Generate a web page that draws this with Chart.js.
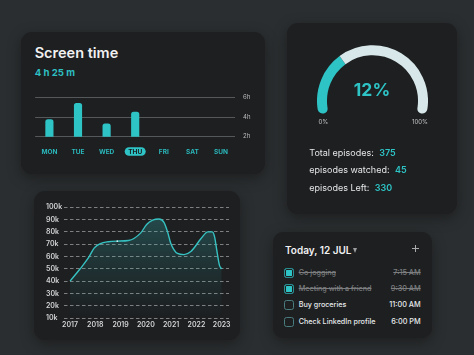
<!DOCTYPE html>
<html><head><meta charset="utf-8">
<script src="https://cdn.jsdelivr.net/npm/chart.js@4.4.1/dist/chart.umd.min.js"></script>
<style>
html,body{margin:0;padding:0;}
body{width:474px;height:355px;background:#2b2e30;position:relative;overflow:hidden;font-family:Inter,"Noto Sans",sans-serif;}
.panel{position:absolute;background:#1d1f21;border-radius:11px;box-shadow:0 4px 14px rgba(0,0,0,0.35);}
.t{position:absolute;white-space:nowrap;}
canvas{position:absolute;}
.cb{position:absolute;width:8px;height:8px;border:1px solid #4a7d7f;border-radius:2.5px;}
.cb.on{background:#2ec4c6;border-color:#2a8f91;box-shadow:inset 0 0 0 1px #1d1f21;}
.done{color:#7b7d7f;text-decoration:line-through;}
</style>
</head><body>
<div class="panel" style="left:21px;top:31.5px;width:244px;height:142.5px;"></div>
<div class="panel" style="left:287px;top:23px;width:170px;height:191px;"></div>
<div class="panel" style="left:34px;top:191px;width:206px;height:149px;"></div>
<div class="panel" style="left:273px;top:232px;width:159px;height:106px;border-radius:10px;"></div>

<div class="t" style="left:34.7px;top:45.3px;font-size:14.5px;line-height:16px;font-weight:600;color:#f1f1f1;">Screen time</div>
<div class="t" style="left:34.7px;top:66.5px;font-size:9.6px;line-height:12px;font-weight:700;color:#2ebfc2;">4 h 25 m</div>
<canvas id="bar" width="230" height="75" style="left:30px;top:86px;width:230px;height:75px;"></canvas>

<canvas id="gauge" width="111" height="70" style="left:317px;top:45px;width:111px;height:70px;"></canvas>
<div class="t" style="left:322px;width:100px;text-align:center;top:80.3px;font-size:17.5px;line-height:20px;font-weight:700;color:#2ec4c6;">12%</div>
<div class="t" style="left:303.3px;width:40px;text-align:center;top:118px;font-size:6px;line-height:8px;color:#c4c6c8;">0%</div>
<div class="t" style="left:400px;width:40px;text-align:center;top:118px;font-size:6px;line-height:8px;color:#c4c6c8;">100%</div>
<div id="stats"></div>

<canvas id="line" width="189" height="135" style="left:46px;top:200px;width:189px;height:135px;"></canvas>

<div class="t" style="left:285px;top:243.7px;font-size:10px;line-height:12px;font-weight:600;color:#f1f1f1;">Today, 12 JUL</div>
<div style="position:absolute;left:352.7px;top:247.5px;width:0;height:0;border-left:2.9px solid transparent;border-right:2.9px solid transparent;border-top:5px solid #9a9c9e;"></div>
<div style="position:absolute;left:411.7px;top:247.7px;width:7.3px;height:1.3px;background:#a8aaac;"></div>
<div style="position:absolute;left:414.7px;top:244.7px;width:1.3px;height:7.3px;background:#a8aaac;"></div>
<div id="todo"></div>

<script>
// ---- data ----
const days = ['MON','TUE','WED','THU','FRI','SAT','SUN'];
const screenHours = [3.75, 5.4, 3.3, 4.5, null, null, null];
const highlightDay = 'THU';

const gaugeParts = [32.6, 67.4];
const statLabels = ['Total episodes:', 'episodes watched:', 'episodes Left:'];
const statValues = ['375', '45', '330'];

const yearLabels = ['2017','2018','2019','2020','2021','2022','2023'];
const lineYears = [2017.0, 2017.40, 2017.73, 2017.96, 2018.2, 2018.51, 2018.87, 2019.31, 2019.79, 2020.03, 2020.27, 2020.51, 2020.71, 2020.86, 2020.98, 2021.25, 2021.51, 2021.78, 2022.2, 2022.45, 2022.62, 2022.72, 2022.80, 2022.91, 2023.0];
const lineValues = [40000, 50000, 59000, 67000, 70500, 72000, 72500, 73000, 79000, 86000, 89500, 90500, 88000, 80000, 71000, 62500, 61500, 64000, 75000, 80000, 80000, 76000, 66000, 53000, 50000];
const yTickLabels = ['10k','20k','30k','40k','50k','60k','70k','80k','90k','100k'];

const todoTasks = ['Go jogging', 'Meeting with a friend', 'Buy groceries', 'Check LinkedIn profile'];
const todoTimes = ['7:15 AM', '9:30 AM', '11:00 AM', '6:00 PM'];
const todoDone = [true, true, false, false];

// ---- html text ----
const TEAL = '#2ec4c6';
const statsEl = document.getElementById('stats');
const statTops = [146.7, 164.3, 182];
statLabels.forEach((l,i)=>{
  const d = document.createElement('div');
  d.className='t';
  d.style.cssText = `left:309.3px;top:${statTops[i]}px;font-size:9px;line-height:12px;color:#e4e6e8;`;
  d.innerHTML = `${l}<span style="color:${TEAL};font-weight:600;margin-left:5.5px;">${statValues[i]}</span>`;
  statsEl.appendChild(d);
});
const todoEl = document.getElementById('todo');
const rowC = [272.7, 289, 305.3, 321.7];
todoTasks.forEach((task,i)=>{
  const cb = document.createElement('div');
  cb.className = 'cb' + (todoDone[i] ? ' on' : '');
  cb.style.left = '284.3px'; cb.style.top = (rowC[i]-5)+'px';
  todoEl.appendChild(cb);
  const tx = document.createElement('div');
  tx.className = 't' + (todoDone[i] ? ' done' : '');
  tx.style.cssText += `left:298.7px;top:${rowC[i]-5}px;font-size:7.2px;line-height:10px;font-weight:500;` + (todoDone[i] ? '' : 'color:#e8eaec;');
  tx.textContent = task;
  todoEl.appendChild(tx);
  const tm = document.createElement('div');
  tm.className = 't' + (todoDone[i] ? ' done' : '');
  tm.style.cssText += `right:${474-420.7}px;top:${rowC[i]-5}px;font-size:7.3px;line-height:10px;font-weight:500;text-align:right;` + (todoDone[i] ? '' : 'color:#e8eaec;');
  tm.textContent = todoTimes[i];
  todoEl.appendChild(tm);
});

// ---- charts ----
Chart.defaults.font.family = 'Inter';
Chart.defaults.animation = false;
Chart.defaults.events = [];
Chart.defaults.plugins.legend.display = false;
Chart.defaults.plugins.tooltip.enabled = false;

const pillPlugin = {
  id: 'pill',
  beforeDraw(chart){
    const xs = chart.scales.x;
    const idx = days.indexOf(highlightDay);
    const px = xs.getPixelForTick(idx);
    const cy = xs.top + 11.4 + 3.9 - 0.5;
    const ctx = chart.ctx;
    ctx.save();
    ctx.fillStyle = TEAL;
    ctx.beginPath();
    ctx.roundRect(px-10.5, cy-4.3, 21, 8.6, 4.3);
    ctx.fill();
    ctx.restore();
  }
};

new Chart(document.getElementById('bar'), {
  type: 'bar',
  data: { labels: days, datasets: [{ data: screenHours, backgroundColor: TEAL, barThickness: 7.5, borderRadius: {topLeft: 2.5, topRight: 2.5, bottomLeft: 0, bottomRight: 0}, borderSkipped: false }] },
  options: {
    responsive: false, maintainAspectRatio: false,
    layout: { padding: { top: 7.3, left: 0, right: 0, bottom: 0 } },
    scales: {
      x: {
        grid: { display: false, drawTicks: false }, border: { display: false },
        ticks: { padding: 11.4, font: { size: 6.5, weight: 700 }, color: (c)=> c.index === days.indexOf(highlightDay) ? '#17191b' : '#2bb8bb' },
        afterFit: (s)=>{ s.height = 24.3; }
      },
      y: {
        position: 'right', min: 2, max: 6,
        grid: { color: '#55585a', lineWidth: 1, drawTicks: false }, border: { display: false },
        ticks: { stepSize: 2, padding: 7.7, font: { size: 6 }, color: '#b8babc', callback: (v)=> v + 'h' },
        afterFit: (s)=>{ s.width = 24.7; }
      }
    }
  },
  plugins: [pillPlugin]
});

new Chart(document.getElementById('gauge'), {
  type: 'doughnut',
  data: { datasets: [{ data: gaugeParts, backgroundColor: [TEAL, '#d8e8ea'], borderWidth: 0,
    borderRadius: (c)=> c.dataIndex === 0 ? {outerStart: 5, innerStart: 5, outerEnd: 0, innerEnd: 0} : {outerStart: 0, innerStart: 0, outerEnd: 5, innerEnd: 5} }] },
  options: { responsive: false, maintainAspectRatio: false, rotation: -104.5, circumference: 209, cutout: '82%', layout: { padding: 0 } }
});

const lineCanvas = document.getElementById('line');
new Chart(lineCanvas, {
  type: 'line',
  data: { datasets: [{
    data: lineYears.map((x,i)=>({x, y: lineValues[i]})),
    borderColor: '#37c2c2', borderWidth: 1.4, tension: 0.4, cubicInterpolationMode: 'monotone',
    pointRadius: lineYears.map(y => y === 2018.87 ? 0.9 : 0), pointBackgroundColor: '#cfeeee', pointBorderWidth: 0,
    fill: 'start',
    backgroundColor: (c)=>{
      const a = c.chart.chartArea; if (!a) return 'rgba(46,196,198,0.2)';
      const g = c.chart.ctx.createLinearGradient(0, a.top, 0, a.bottom);
      g.addColorStop(0, 'rgba(55,180,180,0.32)');
      g.addColorStop(0.55, 'rgba(55,180,180,0.12)');
      g.addColorStop(1, 'rgba(55,180,180,0.0)');
      return g;
    }
  }] },
  options: {
    responsive: false, maintainAspectRatio: false,
    layout: { padding: { top: 7.3, right: 6, left: 0, bottom: 0 } },
    scales: {
      x: {
        type: 'linear', min: 2016.76, max: 2023.29,
        grid: { display: false, drawTicks: false }, border: { display: false },
        afterBuildTicks: (s)=>{ s.ticks = yearLabels.map(y => ({ value: Number(y) })); },
        ticks: { padding: 2.8, font: { size: 7, weight: 600 }, color: '#d2d4d6', autoSkip: false, maxRotation: 0, callback: (v)=> yearLabels[yearLabels.indexOf(String(v))] },
        afterFit: (s)=>{ s.height = 17; }
      },
      y: {
        min: 10000, max: 100000,
        grid: { color: 'rgba(190,192,194,0.6)', lineWidth: 1, drawTicks: false },
        border: { display: false, dash: [3.5, 2.5] },
        ticks: { stepSize: 10000, padding: 0, crossAlign: 'far', font: { size: 7, weight: 600 }, color: '#d2d4d6', callback: (v)=> yTickLabels[Math.round(v/10000)-1] },
        afterFit: (s)=>{ s.width = 18; }
      }
    }
  }
});
</script>
</body></html>
